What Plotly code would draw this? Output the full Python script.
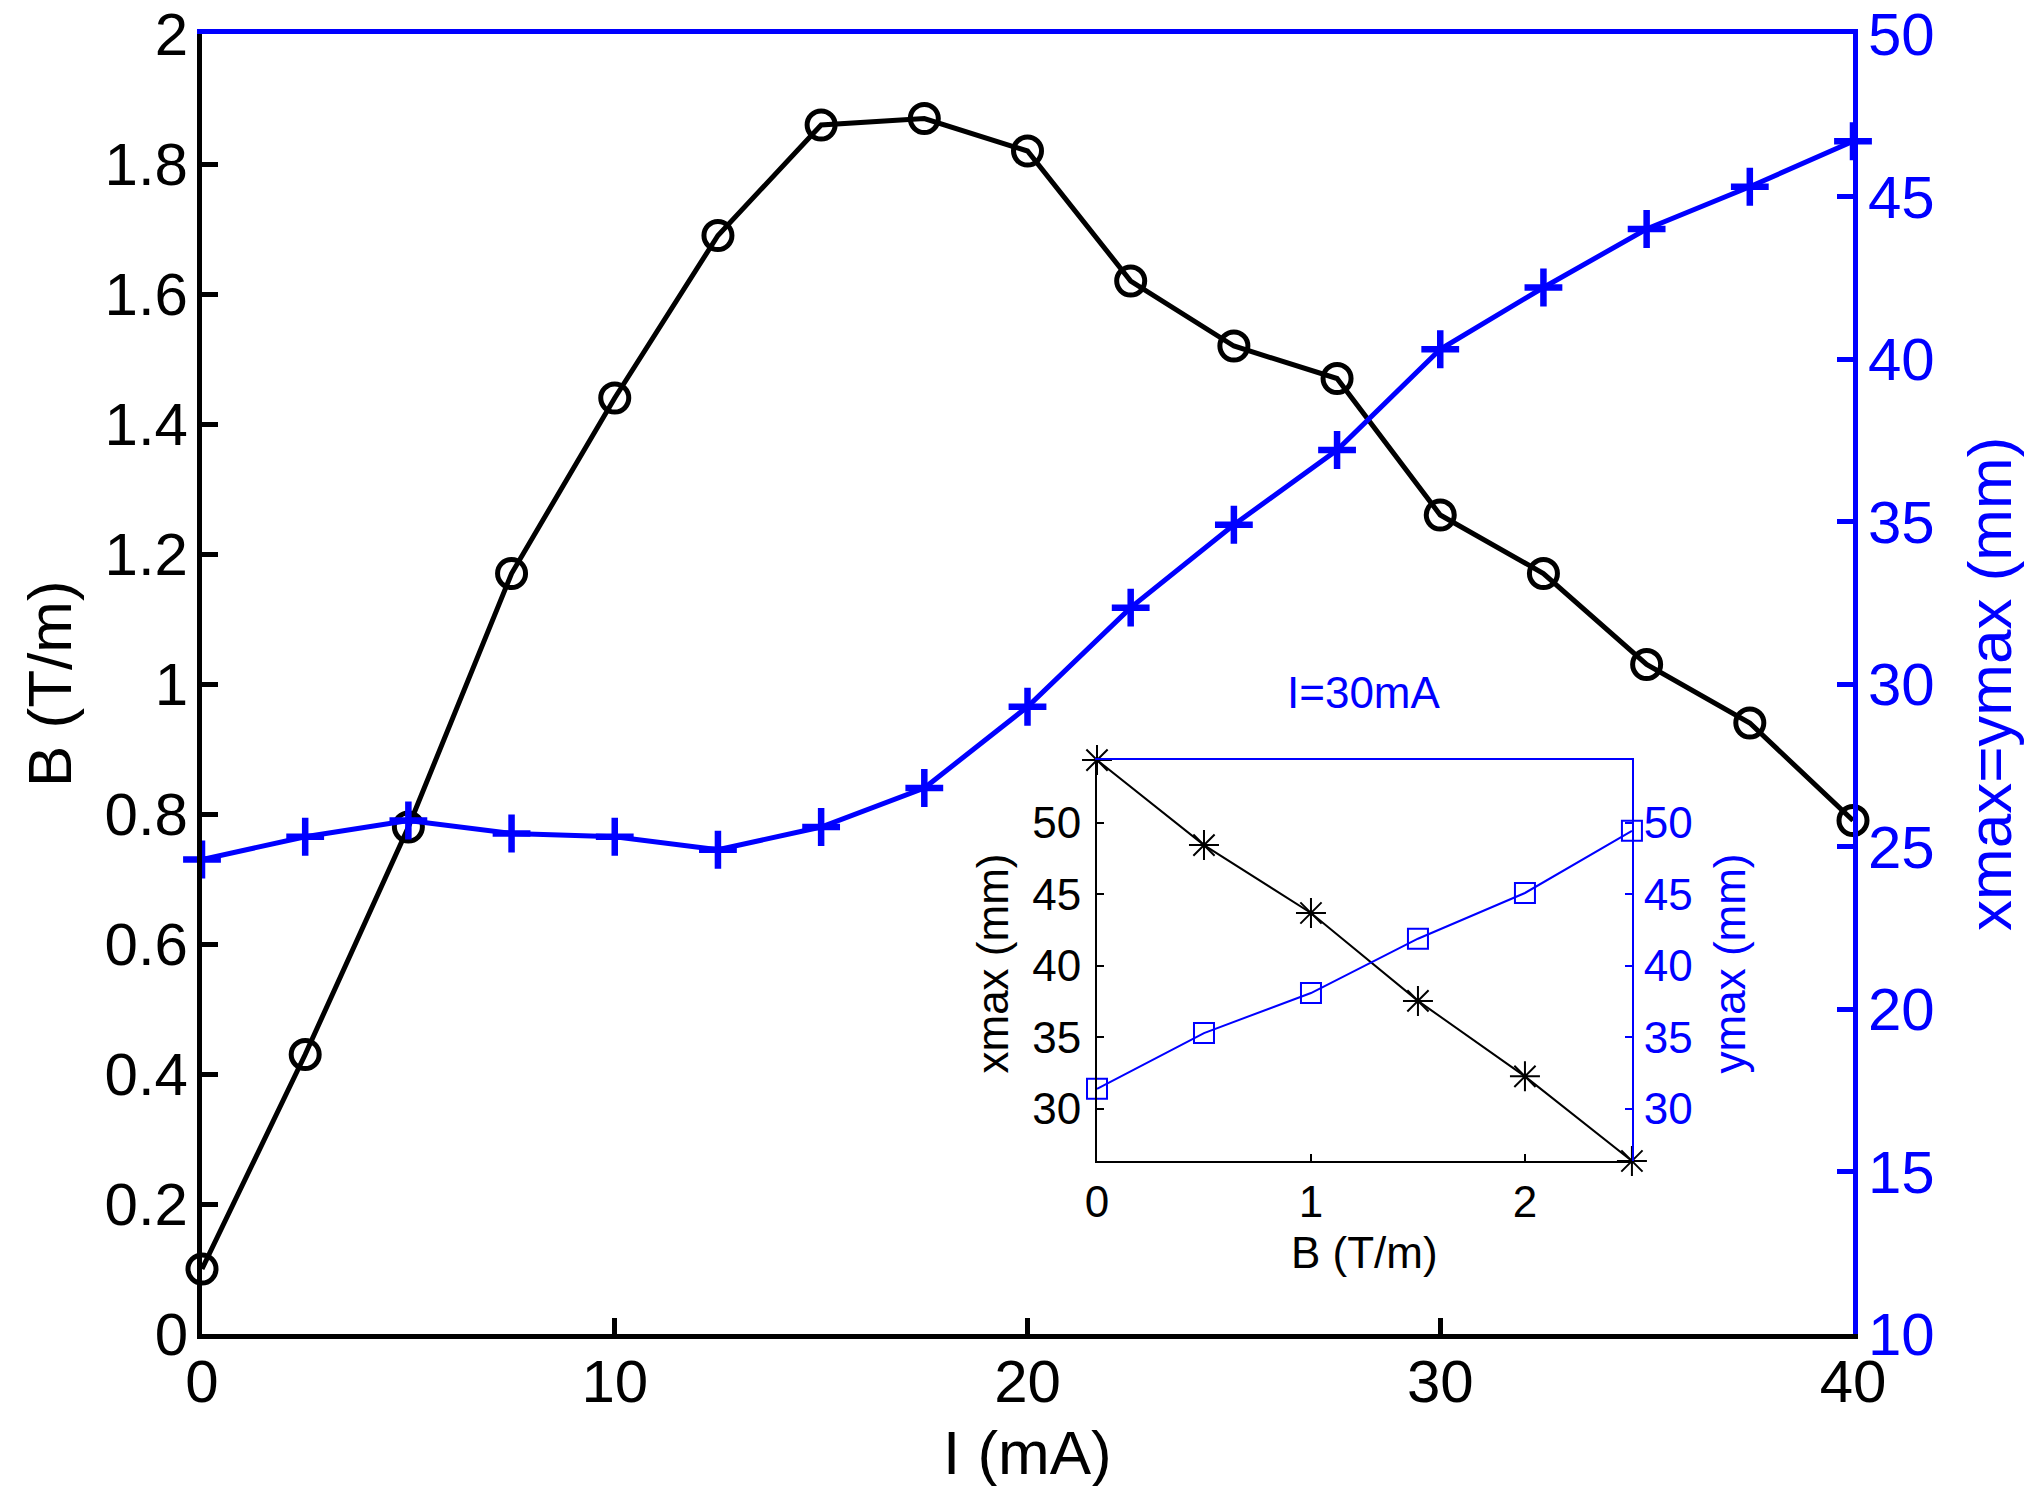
import plotly.graph_objects as go

# ---------------- data ----------------
current_mA = [0, 2.5, 5, 7.5, 10, 12.5, 15, 17.5, 20, 22.5, 25, 27.5, 30, 32.5, 35, 37.5, 40]
gradient_B = [0.10, 0.43, 0.78, 1.17, 1.44, 1.69, 1.86, 1.87, 1.82, 1.62, 1.52, 1.47, 1.26, 1.17, 1.03, 0.94, 0.79]
xymax_mm = [24.6, 25.3, 25.8, 25.4, 25.3, 24.9, 25.6, 26.8, 29.3, 32.35, 34.9, 37.2, 40.3, 42.2, 44.0, 45.3, 46.7]

inset_B = [0, 0.5, 1.0, 1.5, 2.0, 2.5]
inset_xmax = [54.4, 48.45, 43.7, 37.55, 32.27, 26.35]
inset_ymax = [31.4, 35.3, 38.1, 41.9, 45.1, 49.45]

left_ticks = [0, 0.2, 0.4, 0.6, 0.8, 1.0, 1.2, 1.4, 1.6, 1.8, 2.0]
left_ticktext = ["0", "0.2", "0.4", "0.6", "0.8", "1", "1.2", "1.4", "1.6", "1.8", "2"]
right_ticks = [10, 15, 20, 25, 30, 35, 40, 45, 50]
bottom_ticks = [0, 10, 20, 30, 40]
inset_x_ticks = [0, 1, 2]
inset_y_ticks = [30, 35, 40, 45, 50]

BLUE = "#0000ff"
FONT = "Liberation Sans, Arial, Helvetica, sans-serif"
MAIN_FS = 60
TITLE_FS = 62
INSET_FS = 44

fig = go.Figure()

fig.add_trace(go.Scatter(
    x=current_mA, y=gradient_B, xaxis="x", yaxis="y", mode="lines+markers",
    line=dict(color="black", width=5),
    marker=dict(symbol="circle-open", size=28, color="black", line=dict(color="black", width=5)),
    cliponaxis=False, showlegend=False))

fig.add_trace(go.Scatter(
    x=current_mA, y=xymax_mm, xaxis="x2", yaxis="y2", mode="lines+markers",
    line=dict(color=BLUE, width=5),
    marker=dict(symbol="cross-thin-open", size=27, color=BLUE, line=dict(color=BLUE, width=6.5)),
    cliponaxis=False, showlegend=False))

fig.add_trace(go.Scatter(
    x=inset_B, y=inset_xmax, xaxis="x3", yaxis="y3", mode="lines+markers",
    line=dict(color="black", width=2),
    marker=dict(symbol="asterisk-open", size=25, color="black", line=dict(color="black", width=2)),
    cliponaxis=False, showlegend=False))

fig.add_trace(go.Scatter(
    x=inset_B, y=inset_ymax, xaxis="x4", yaxis="y4", mode="lines+markers",
    line=dict(color=BLUE, width=2),
    marker=dict(symbol="square-open", size=20, color=BLUE, line=dict(color=BLUE, width=2)),
    cliponaxis=False, showlegend=False))

main_common = dict(showgrid=False, zeroline=False, showline=True, linewidth=5, automargin=False,
                   ticks="inside", ticklen=16, tickwidth=5, ticklabeloverflow="allow")
inset_common = dict(showgrid=False, zeroline=False, showline=True, linewidth=2, automargin=False,
                    ticks="inside", ticklen=7, tickwidth=2, ticklabeloverflow="allow")

ix0, ix1 = 0.5421, 0.8661
iy0, iy1 = 0.1331, 0.4415

fig.update_layout(
    width=2031, height=1486,
    margin=dict(l=202, r=178, t=34, b=152, autoexpand=False),
    paper_bgcolor="white", plot_bgcolor="white",
    font=dict(family=FONT, size=MAIN_FS, color="black"),
    xaxis=dict(domain=[0, 1], range=[0, 40], anchor="y", tickvals=bottom_ticks,
               linecolor="black", tickcolor="black", tickfont=dict(size=MAIN_FS, color="black"),
               ticklabelstandoff=-9, **main_common),
    yaxis=dict(domain=[0, 1], range=[0, 2], anchor="x", tickvals=left_ticks, ticktext=left_ticktext,
               linecolor="black", tickcolor="black", tickfont=dict(size=MAIN_FS, color="black"),
               ticklabelstandoff=-3, **main_common),
    xaxis2=dict(overlaying="x", side="top", anchor="y2", range=[0, 40], automargin=False,
                showgrid=False, zeroline=False, showline=True, linewidth=5, linecolor=BLUE,
                ticks="", showticklabels=False),
    yaxis2=dict(overlaying="y", side="right", anchor="x2", range=[10, 50], tickvals=right_ticks,
                linecolor=BLUE, tickcolor=BLUE, tickfont=dict(size=MAIN_FS, color=BLUE),
                ticklabelstandoff=-2, **main_common),
    xaxis3=dict(domain=[ix0, ix1], range=[0, 2.5], anchor="y3", tickvals=inset_x_ticks,
                linecolor="black", tickcolor="black", tickfont=dict(size=INSET_FS, color="black"),
                ticklabelstandoff=1, **inset_common),
    yaxis3=dict(domain=[iy0, iy1], range=[26.35, 54.4], anchor="x3", tickvals=inset_y_ticks,
                linecolor="black", tickcolor="black", tickfont=dict(size=INSET_FS, color="black"),
                ticklabelstandoff=5, **inset_common),
    xaxis4=dict(overlaying="x3", side="top", anchor="y4", range=[0, 2.5], automargin=False,
                showgrid=False, zeroline=False, showline=True, linewidth=2, linecolor=BLUE,
                ticks="", showticklabels=False),
    yaxis4=dict(overlaying="y3", side="right", anchor="x4", range=[26.35, 54.4], tickvals=inset_y_ticks,
                linecolor=BLUE, tickcolor=BLUE, tickfont=dict(size=INSET_FS, color=BLUE),
                ticklabelstandoff=1, **inset_common),
)

annotations = [
    # main axis titles
    dict(text="B (T/m)", xref="paper", yref="paper", x=0, y=0.5, xshift=-153, textangle=-90,
         xanchor="center", yanchor="middle", showarrow=False, font=dict(size=TITLE_FS, color="black")),
    dict(text="I (mA)", xref="paper", yref="paper", x=0.5, y=0, yshift=-118,
         xanchor="center", yanchor="middle", showarrow=False, font=dict(size=TITLE_FS, color="black")),
    dict(text="xmax=ymax (mm)", xref="paper", yref="paper", x=1, y=0.5, xshift=136, textangle=-90,
         xanchor="center", yanchor="middle", showarrow=False, font=dict(size=TITLE_FS, color=BLUE)),
    # inset titles
    dict(text="I=30mA", xref="paper", yref="paper", x=(ix0 + ix1) / 2, y=iy1, yshift=68,
         xanchor="center", yanchor="middle", showarrow=False, font=dict(size=INSET_FS, color=BLUE)),
    dict(text="B (T/m)", xref="paper", yref="paper", x=(ix0 + ix1) / 2, y=iy0, yshift=-92,
         xanchor="center", yanchor="middle", showarrow=False, font=dict(size=INSET_FS, color="black")),
    dict(text="xmax (mm)", xref="paper", yref="paper", x=ix0, y=(iy0 + iy1) / 2, xshift=-104, yshift=-3,
         textangle=-90, xanchor="center", yanchor="middle", showarrow=False,
         font=dict(size=INSET_FS, color="black")),
    dict(text="ymax (mm)", xref="paper", yref="paper", x=ix1, y=(iy0 + iy1) / 2, xshift=98, yshift=-3,
         textangle=-90, xanchor="center", yanchor="middle", showarrow=False,
         font=dict(size=INSET_FS, color=BLUE)),
]
fig.update_layout(annotations=annotations)

fig.write_html("out.html")
